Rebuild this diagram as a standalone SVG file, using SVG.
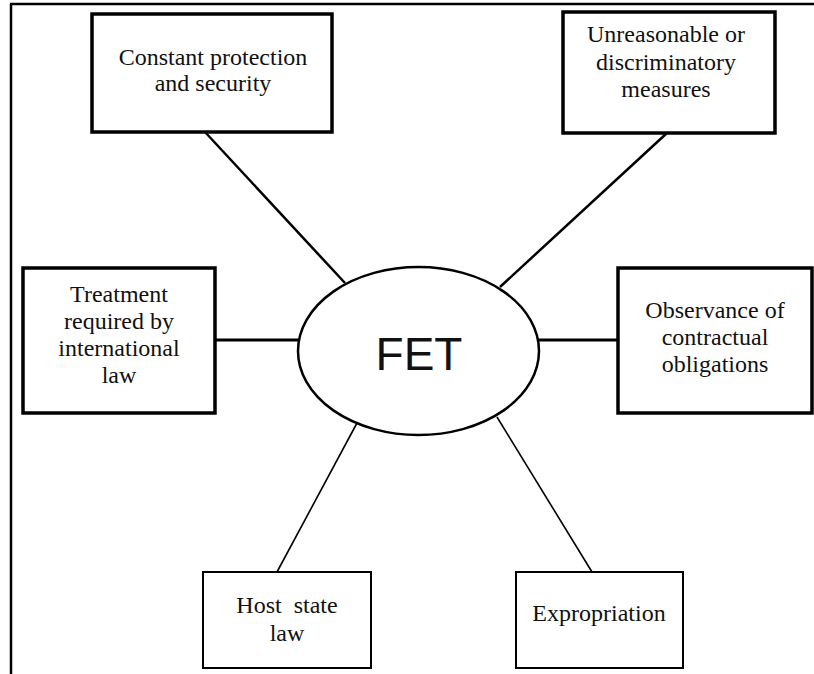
<svg xmlns="http://www.w3.org/2000/svg" width="814" height="674" viewBox="0 0 814 674">
<style>
.thick{fill:#fff;stroke:#000;stroke-width:3.5}
.thin{fill:#fff;stroke:#000;stroke-width:2}
.lbl{font-family:"Liberation Serif","Times New Roman",serif;font-size:24px;text-anchor:middle;fill:#111;white-space:pre}
.c{stroke:#000;fill:none}
</style>
<rect width="814" height="674" fill="#fff"/>
<g id="frame" stroke="#000" stroke-width="2.5" fill="none">
<line x1="10" y1="4" x2="814" y2="4"/>
<line x1="11" y1="4" x2="11" y2="674"/>
</g>
<g id="connectors">
<line class="c" stroke-width="2.5" x1="205" y1="132" x2="345" y2="283"/>
<line class="c" stroke-width="2.5" x1="667" y1="133" x2="500" y2="287"/>
<line class="c" stroke-width="3" x1="215" y1="340" x2="299" y2="340"/>
<line class="c" stroke-width="3" x1="538" y1="340" x2="618" y2="340"/>
<line class="c" stroke-width="1.6" x1="357" y1="423" x2="277" y2="572"/>
<line class="c" stroke-width="1.6" x1="497" y1="417" x2="592" y2="572"/>
</g>
<g id="fet">
<ellipse cx="418.5" cy="351" rx="120.5" ry="84" fill="#fff" stroke="#000" stroke-width="2.5"/>
<text x="419" y="370" font-family="Liberation Sans, Arial, sans-serif" font-size="46" text-anchor="middle" fill="#111">FET</text>
</g>
<g id="constant-protection">
<rect class="thick" x="92" y="14" width="240" height="118"/>
<text class="lbl" x="213" y="65">Constant protection</text>
<text class="lbl" x="213" y="91">and security</text>
</g>
<g id="unreasonable">
<rect class="thick" x="563" y="12" width="212" height="121"/>
<text class="lbl" x="666" y="42">Unreasonable or</text>
<text class="lbl" x="666" y="70">discriminatory</text>
<text class="lbl" x="666" y="97">measures</text>
</g>
<g id="treatment">
<rect class="thick" x="23" y="268" width="192" height="145"/>
<text class="lbl" x="119" y="302">Treatment</text>
<text class="lbl" x="119" y="329">required by</text>
<text class="lbl" x="119" y="356">international</text>
<text class="lbl" x="119" y="383">law</text>
</g>
<g id="observance">
<rect class="thick" x="618" y="268" width="194" height="145"/>
<text class="lbl" x="715" y="318">Observance of</text>
<text class="lbl" x="715" y="345">contractual</text>
<text class="lbl" x="715" y="372">obligations</text>
</g>
<g id="host-state-law">
<rect class="thin" x="203" y="572" width="168" height="96"/>
<text class="lbl" x="287" y="613">Host  state</text>
<text class="lbl" x="287" y="641">law</text>
</g>
<g id="expropriation">
<rect class="thin" x="516" y="572" width="167" height="96"/>
<text class="lbl" x="599" y="621">Expropriation</text>
</g>
</svg>
